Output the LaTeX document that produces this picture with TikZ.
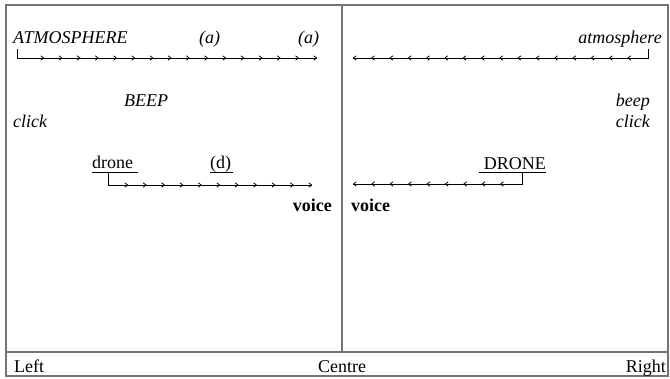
\documentclass[tikz,border=0pt]{standalone}
\usepackage{fontspec}
\setmainfont{Liberation Serif}
\usetikzlibrary{arrows.meta}
\begin{document}
\begin{tikzpicture}[x=1pt,y=-1pt,
  frame/.style={draw=black!55, line width=1.5pt},
  up/.style={inner sep=0pt, font=\fontsize{18}{21}\selectfont},
  it/.style={inner sep=0pt, font=\fontsize{18}{21}\selectfont\itshape},
  bf/.style={inner sep=0pt, font=\fontsize{18}{21}\selectfont\bfseries},
  lead/.style={line width=0.8pt},
  tip/.style={-{To[length=3.5pt,width=5pt]}, line width=0.8pt},
  uline/.style={line width=1pt}]
\useasboundingbox (0,0) rectangle (670,378);

% frame, centre divider and label strip
\draw[frame] (6,5) rectangle (668,376);
\draw[frame] (6,352) -- (668,352);
\draw[frame] (342,5) -- (342,352);

% left half texts
\node[it, anchor=base west] (atmL) at (13,43) {ATMOSPHERE};
\node[it, anchor=base west] (aOne) at (199,43) {(a)};
\node[it, anchor=base west] (aTwo) at (298,43) {(a)};
\node[it, anchor=base west] (beepL) at (124,106) {BEEP};
\node[it, anchor=base west] (clickL) at (13,127) {click};
\node[up, anchor=base west] (droneL) at (92,168) {drone};
\node[up, anchor=base west] (dLbl) at (210,168) {(d)};
\node[bf, anchor=base east] (voiceL) at (332,211) {voice};

% right half texts
\node[it, anchor=base east] (atmR) at (662,43) {atmosphere};
\node[it, anchor=base east] (beepR) at (650,106) {beep};
\node[it, anchor=base east] (clickR) at (650,127) {click};
\node[up, anchor=base east] (droneR) at (546,169) {DRONE};
\node[bf, anchor=base west] (voiceR) at (351,211) {voice};

% underlines
\draw[uline] ([yshift=-4pt]droneL.base west) -- ([xshift=5pt,yshift=-4pt]droneL.base east);
\draw[uline] ([yshift=-4pt]dLbl.base west) -- ([xshift=2pt,yshift=-4pt]dLbl.base east);
\draw[uline] ([xshift=-5pt,yshift=-3pt]droneR.base west) -- ([yshift=-3pt]droneR.base east);

% upper arrow rows
\coordinate (r1Ls) at ([xshift=4pt,yshift=-6pt]atmL.base west);
\coordinate (r1Le) at (317,58);
\draw[lead] (r1Ls) |- (r1Le);
\foreach \k in {0,...,15}
  \draw[tip] ([xshift=-\k*18.2pt-3pt]r1Le) -- ([xshift=-\k*18.2pt]r1Le);

\coordinate (r1Rs) at ([xshift=-14pt,yshift=-6pt]atmR.base east);
\coordinate (r1Re) at (353,58);
\draw[lead] (r1Rs) |- (r1Re);
\foreach \k in {0,...,15}
  \draw[tip] ([xshift=\k*18.3pt+3pt]r1Re) -- ([xshift=\k*18.3pt]r1Re);

% lower arrow rows
\coordinate (r2Ls) at (108,172);
\coordinate (r2Le) at (312,185);
\draw[lead] (r2Ls) |- (r2Le);
\foreach \k in {0,...,10}
  \draw[tip] ([xshift=-\k*18.4pt-3pt]r2Le) -- ([xshift=-\k*18.4pt]r2Le);

\coordinate (r2Rs) at (522,172);
\coordinate (r2Re) at (353,184);
\draw[lead] (r2Rs) |- (r2Re);
\foreach \k in {0,...,8}
  \draw[tip] ([xshift=\k*18.4pt+3pt]r2Re) -- ([xshift=\k*18.4pt]r2Re);

% bottom labels
\node[up, anchor=base west] (leftLbl) at (14,372) {Left};
\node[up, anchor=base west] (centreLbl) at (318,372) {Centre};
\node[up, anchor=base east] (rightLbl) at (666,372) {Right};
\end{tikzpicture}
\end{document}
